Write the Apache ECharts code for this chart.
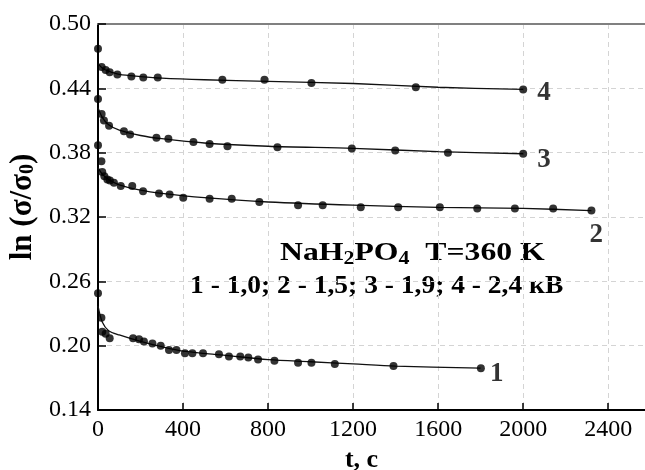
<!DOCTYPE html>
<html>
<head>
<meta charset="utf-8">
<script src="https://cdn.jsdelivr.net/npm/echarts@6/dist/echarts.min.js"></script>
<style>
html,body{margin:0;padding:0;background:#fff;}
#chart{width:645px;height:470px;}
</style>
</head>
<body>
<div id="chart"></div>
<script>
// ---- data ----
var t1 = [0, 16, 20, 36, 55, 165, 193, 216, 256, 295, 334, 369, 409, 444, 494, 569, 616, 669, 707, 753, 830, 941, 1004, 1114, 1390, 1801];
var v1 = [0.249, 0.226, 0.213, 0.211, 0.207, 0.207, 0.206, 0.204, 0.202, 0.200, 0.196, 0.196, 0.193, 0.193, 0.193, 0.192, 0.190, 0.190, 0.189, 0.187, 0.186, 0.184, 0.184, 0.183, 0.181, 0.179];
var t2 = [0, 16, 20, 30, 44, 56, 75, 107, 161, 212, 287, 337, 401, 525, 629, 759, 941, 1057, 1236, 1412, 1608, 1784, 1961, 2141, 2321];
var v2 = [0.387, 0.372, 0.362, 0.358, 0.355, 0.354, 0.352, 0.349, 0.349, 0.344, 0.342, 0.341, 0.338, 0.337, 0.337, 0.334, 0.331, 0.331, 0.329, 0.329, 0.329, 0.328, 0.328, 0.328, 0.326];
var t3 = [0, 17, 28, 52, 122, 151, 275, 331, 449, 525, 609, 844, 1194, 1398, 1646, 2000];
var v3 = [0.430, 0.416, 0.410, 0.405, 0.400, 0.397, 0.394, 0.393, 0.390, 0.388, 0.386, 0.385, 0.384, 0.382, 0.380, 0.379];
var t4 = [0, 17, 36, 55, 91, 157, 213, 281, 585, 783, 1004, 1495, 2000];
var v4 = [0.477, 0.460, 0.457, 0.455, 0.453, 0.451, 0.450, 0.450, 0.448, 0.448, 0.445, 0.441, 0.439];

// fitted curves
var ft1 = [0, 20, 50, 100, 200, 300, 400, 600, 800, 1000, 1200, 1400, 1800];
var fv1 = [0.237, 0.222, 0.214, 0.210, 0.204, 0.199, 0.195, 0.191, 0.187, 0.185, 0.183, 0.181, 0.179];
var ft2 = [0, 20, 50, 100, 200, 300, 500, 800, 1200, 1600, 2000, 2321];
var fv2 = [0.366, 0.360, 0.355, 0.350, 0.345, 0.342, 0.338, 0.334, 0.331, 0.329, 0.328, 0.326];
var ft3 = [0, 20, 50, 100, 200, 300, 500, 800, 1200, 1600, 2000];
var fv3 = [0.422, 0.413, 0.406, 0.401, 0.396, 0.393, 0.389, 0.386, 0.384, 0.381, 0.379];
var ft4 = [0, 20, 50, 100, 200, 300, 500, 800, 1200, 1600, 2000];
var fv4 = [0.463, 0.459, 0.456, 0.453, 0.451, 0.4495, 0.448, 0.4465, 0.4445, 0.441, 0.439];

var curveNames = ['1', '2', '3', '4'];
var yTicks = [0.14, 0.20, 0.26, 0.32, 0.38, 0.44, 0.50];
var xTicks = [0, 400, 800, 1200, 1600, 2000, 2400];

var titleLine1 = 'NaH{sub|2}PO{sub|4}  T=360 K';
var titleLine2 = '1 - 1,0; 2 - 1,5; 3 - 1,9; 4 - 2,4 кВ';

// ---- chart ----
var FONT = 'Liberation Serif';
function zip(a, b) { return a.map(function (x, i) { return [x, b[i]]; }); }

var labelOffsets = [[-3, 6], [-14, 24], [2, 6], [2, 4]];
var labelPos = ['right', 'right', 'right', 'right'];

function pointsSeries(ts, vs, idx) {
  var d = zip(ts, vs);
  var last = d.length - 1;
  d[last] = {
    value: d[last],
    label: {
      show: true, formatter: curveNames[idx], position: labelPos[idx], distance: 8,
      offset: labelOffsets[idx],
      fontFamily: FONT, fontWeight: 'bold', fontSize: 27, color: '#000'
    }
  };
  return {
    type: 'scatter', data: d, symbol: 'circle', symbolSize: 8,
    itemStyle: { color: '#000' }, z: 5, silent: true
  };
}
function fitSeries(ts, vs) {
  return {
    type: 'line', data: zip(ts, vs), showSymbol: false, smooth: 0.3,
    lineStyle: { color: '#111', width: 1.3 }, z: 4, silent: true
  };
}

var chart = echarts.init(document.getElementById('chart'), null, { renderer: 'canvas' });
chart.setOption({
  animation: false,
  backgroundColor: '#fff',
  grid: { left: 98, top: 24, right: 0, bottom: 60, containLabel: false, outerBoundsMode: 'none' },
  xAxis: [{
    type: 'value', min: 0, max: 2573, interval: 400,
    name: 't, c', nameLocation: 'middle', nameGap: 37,
    nameTextStyle: { fontFamily: FONT, fontWeight: 'bold', fontSize: 26, color: '#000', padding: [0, 20, 0, 0] },
    axisLine: { lineStyle: { color: '#000', width: 2 } },
    axisTick: { inside: true, length: 7, lineStyle: { color: '#000', width: 1.5 } },
    axisLabel: { showMaxLabel: false, margin: 8, fontFamily: FONT, fontSize: 24, color: '#000',
      formatter: function (v) { return xTicks.indexOf(v) >= 0 ? String(v) : ''; } },
    splitLine: { show: true, lineStyle: { color: '#d4d4d4', type: [5, 4], width: 1 } }
  }, {
    type: 'value', position: 'top', min: 0, max: 2573, show: true,
    axisLine: { lineStyle: { color: '#808080', width: 2 } },
    axisTick: { show: false }, axisLabel: { show: false }, splitLine: { show: false }
  }],
  yAxis: {
    type: 'value', min: 0.14, max: 0.50, interval: 0.06,
    name: 'ln (σ/σ{sub|0})', nameLocation: 'middle', nameGap: 58, nameRotate: 90,
    nameTextStyle: {
      fontFamily: FONT, fontWeight: 'bold', fontSize: 31, color: '#000', padding: [0, 0, 0, 20],
      rich: { sub: { fontFamily: FONT, fontWeight: 'bold', fontSize: 20, color: '#000', verticalAlign: 'bottom', padding: [10, 0, 0, 0] } }
    },
    axisLine: { show: true, lineStyle: { color: '#000', width: 2 } },
    axisTick: { show: true, inside: true, length: 8, lineStyle: { color: '#000', width: 1.5 } },
    axisLabel: { margin: 7, fontFamily: FONT, fontSize: 24, color: '#000',
      formatter: function (v) { return v.toFixed(2); } },
    splitLine: { show: true, lineStyle: { color: '#d4d4d4', type: [5, 4], width: 1 } }
  },
  graphic: [{
    type: 'text', left: 280, top: 240, silent: true,
    style: {
      text: titleLine1, fill: '#000',
      font: 'bold 26px "Liberation Serif"',
      rich: { sub: { fontFamily: FONT, fontWeight: 'bold', fontSize: 18, padding: [12, 0, 0, 0] } }
    },
    scaleX: 1.22
  }, {
    type: 'text', left: 190, top: 274, silent: true,
    style: { text: titleLine2, fill: '#000', font: 'bold 25px "Liberation Serif"' },
    scaleX: 1.1
  }],
  series: [
    fitSeries(ft1, fv1), fitSeries(ft2, fv2), fitSeries(ft3, fv3), fitSeries(ft4, fv4),
    pointsSeries(t1, v1, 0), pointsSeries(t2, v2, 1), pointsSeries(t3, v3, 2), pointsSeries(t4, v4, 3)
  ]
});
</script>
</body>
</html>
